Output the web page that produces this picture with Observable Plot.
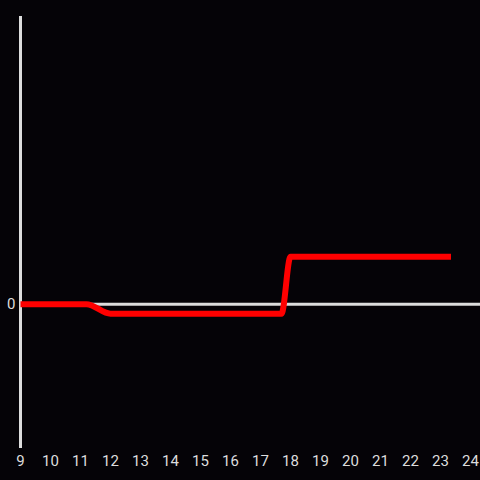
<!DOCTYPE html>
<html><head><meta charset="utf-8">
<script src="https://cdn.jsdelivr.net/npm/d3@7"></script>
<script src="https://cdn.jsdelivr.net/npm/@observablehq/plot@0.6"></script>
<style>
html,body{margin:0;padding:0;background:#050307;}
</style>
</head><body>
<div id="chart"></div>
<script>
const xs = [9, 11.2, 12, 17.7, 18, 23.35];
const ys = [0, 0, -1, -1, 5, 5];
const xTicks = [9,10,11,12,13,14,15,16,17,18,19,20,21,22,23,24];
const yTicks = [0];
const data = xs.map((x, i) => ({x, y: ys[i]}));

const chart = Plot.plot({
  width: 480, height: 480,
  marginLeft: 20, marginRight: 0, marginTop: 16, marginBottom: 32,
  style: {background: "#050307", color: "#dddddd", fontFamily: "Roboto, sans-serif", fontSize: "15px"},
  x: {domain: [9, 24], range: [20, 470], ticks: xTicks, tickSize: 0, tickPadding: 7, label: null},
  y: {domain: [-15.2, 30.3], ticks: yTicks, tickSize: 0, tickPadding: 5, label: null},
  marks: [
    Plot.ruleY([0], {stroke: "#dddddd", strokeWidth: 3}),
    Plot.ruleX([9], {stroke: "#dddddd", strokeWidth: 3}),
    Plot.line(data, {x: "x", y: "y", stroke: "#ff0000", strokeWidth: 6, curve: "monotone-x", strokeLinecap: "butt"}),
    Plot.axisX({ticks: xTicks, tickSize: 0, tickPadding: 7, fill: "#dddddd", fontSize: 15}),
    Plot.axisY({ticks: yTicks, tickSize: 0, tickPadding: 5, fill: "#dddddd", fontSize: 15})
  ]
});
document.getElementById("chart").appendChild(chart);
</script>
</body></html>
